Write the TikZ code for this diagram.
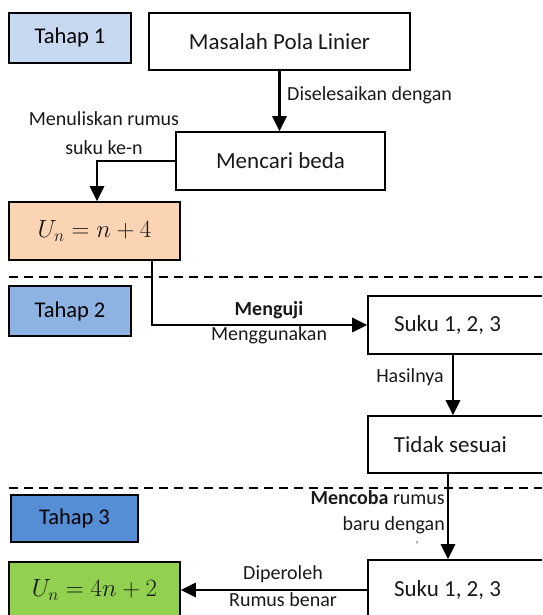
\documentclass[tikz,border=0pt]{standalone}
\usepackage{fontspec}
\setmainfont{Carlito}
\usetikzlibrary{arrows.meta,positioning}
\definecolor{tahapA}{RGB}{198,217,240}
\definecolor{tahapB}{RGB}{141,179,226}
\definecolor{tahapC}{RGB}{85,142,213}
\definecolor{peach}{RGB}{251,212,180}
\definecolor{lgreen}{RGB}{146,208,80}
\definecolor{txt}{RGB}{25,25,25}
\tikzset{
  box/.style={draw=black, line width=1.6pt, inner sep=0pt, text=txt, font=\fontsize{23}{27}\selectfont},
  tahap/.style={box, line width=1.8pt, text=black, font=\fontsize{22.5}{27}\selectfont},
  mth/.style={font=\fontsize{24.5}{28}\selectfont},
  lbl/.style={inner sep=0pt, text=txt, font=\fontsize{20}{26}\selectfont},
  arr/.style={line width=2.8pt, -{Triangle[length=15pt,width=14pt]}},
  sep/.style={line width=1.6pt, dash pattern=on 9pt off 6pt}
}
\begin{document}
\begin{tikzpicture}[x=1pt,y=-1pt]
\useasboundingbox (0,0) rectangle (542,615);
\clip (0,0) rectangle (542,615);
% stage boxes
\node[tahap, fill=tahapA, minimum width=122, minimum height=50] (t1) at (70,38) {Tahap 1};
\node[tahap, fill=tahapB, minimum width=122, minimum height=50] (t2) at (70,311) {Tahap 2};
\node[tahap, fill=tahapC, minimum width=127, minimum height=47] (t3) at (74.5,518.5) {Tahap 3};
% main boxes
\node[box, minimum width=261, minimum height=57] (mpl) at (279.5,41.5) {Masalah Pola Linier};
\node[box, minimum width=209, minimum height=58] (mb) at (280.5,161) {Mencari beda};
\node[box, mth, fill=peach, minimum width=171, minimum height=58] (un1) at (94.5,231) {$U_n = n + 4$};
\node[box, minimum width=177, minimum height=58] (s1) at (456.5,325) {Suku 1, 2, 3\rule{18pt}{0pt}};
\node[box, minimum width=177, minimum height=57] (ts) at (456.5,444.5) {Tidak sesuai\rule{12pt}{0pt}};
\node[box, mth, fill=lgreen, minimum width=171, minimum height=56] (un2) at (94.5,590) {$U_n = 4n + 2$};
\node[box, minimum width=177, minimum height=60] (s2) at (456.5,590) {Suku 1, 2, 3\rule{18pt}{0pt}};
% separators
\coordinate (d1a) at (9,277); \coordinate (d1b) at (545,277);
\coordinate (d2a) at (9,488); \coordinate (d2b) at (545,488);
\draw[sep] (d1a) -- (d1b);
\draw[sep] (d2a) -- (d2b);
% connectors
\draw[arr] (mpl.south) -- (mpl.south |- mb.north);
\draw[arr] (mb.west) -| ([xshift=2.5]un1.north);
\draw[arr] ([xshift=57.5]un1.south) |- (s1.west);
\draw[arr] ([xshift=-3.5]s1.south) -- ([xshift=-3.5]ts.north);
\draw[arr] ([xshift=-8.5]ts.south) -- ([xshift=-8.5]s2.north);
\draw[arr] (s2.west) -- (un2.east);
% labels
\node[lbl, anchor=west] (l1) at (287,95) {Diselesaikan dengan};
\node[lbl, align=center, font=\fontsize{20}{29}\selectfont] (l2) at (104,133) {Menuliskan rumus\\suku ke-n};
\node[lbl, align=center, font=\fontsize{20}{25}\selectfont] (l3) at (269,322.5) {\textbf{Menguji}\\Menggunakan};
\node[lbl] (l4) at (410,377) {Hasilnya};
\node[lbl, align=right, anchor=east] (l5) at (445,512) {\textbf{Mencoba} rumus\\baru dengan};
\node[lbl, font=\fontsize{10}{12}\selectfont] (l6) at (417,545) {'};
\node[lbl, align=center, font=\fontsize{20}{27}\selectfont] (l7) at (283,586.5) {Diperoleh\\Rumus benar};
\end{tikzpicture}
\end{document}
